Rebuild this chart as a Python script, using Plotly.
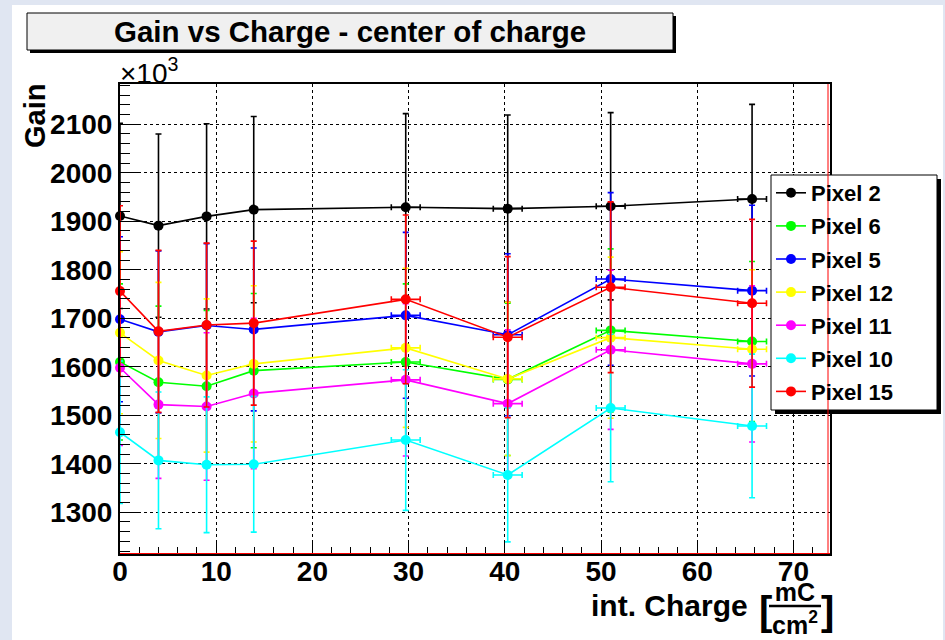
import plotly.graph_objects as go

# integrated charge [mC/cm^2] at each measurement, with its uncertainty
charge = [0.0, 4.0, 9.0, 13.9, 29.7, 40.3, 51.0, 65.7]
charge_err = [0.3, 0.3, 0.3, 0.3, 1.5, 1.5, 1.5, 1.5]

# gain (in units of 10^3) per pixel, with uncertainties
gain_pixel2 = [1911, 1891, 1910, 1924, 1929, 1926, 1931, 1946]
err_pixel2 = [191, 189, 191, 192, 193, 193, 193, 195]
gain_pixel6 = [1610, 1568, 1560, 1592, 1610, 1574, 1675, 1652]
err_pixel6 = [161, 157, 156, 159, 161, 157, 168, 165]
gain_pixel5 = [1698, 1672, 1685, 1677, 1706, 1666, 1781, 1757]
err_pixel5 = [170, 167, 169, 168, 171, 167, 178, 176]
gain_pixel12 = [1670, 1613, 1582, 1606, 1639, 1575, 1660, 1636]
err_pixel12 = [167, 161, 158, 161, 164, 158, 166, 164]
gain_pixel11 = [1598, 1522, 1518, 1545, 1573, 1524, 1635, 1606]
err_pixel11 = [160, 152, 152, 155, 157, 152, 164, 161]
gain_pixel10 = [1465, 1407, 1398, 1399, 1449, 1377, 1515, 1478]
err_pixel10 = [147, 141, 140, 140, 145, 138, 152, 148]
gain_pixel15 = [1756, 1673, 1686, 1690, 1739, 1661, 1764, 1731]
err_pixel15 = [176, 167, 169, 169, 174, 166, 176, 173]

pixel_names = ["Pixel 2", "Pixel 6", "Pixel 5", "Pixel 12", "Pixel 11", "Pixel 10", "Pixel 15"]
pixel_colors = ["#000000", "#00ff00", "#0000ff", "#ffff00", "#ff00ff", "#00ffff", "#ff0000"]
pixel_gains = [gain_pixel2, gain_pixel6, gain_pixel5, gain_pixel12, gain_pixel11, gain_pixel10, gain_pixel15]
pixel_errs = [err_pixel2, err_pixel6, err_pixel5, err_pixel12, err_pixel11, err_pixel10, err_pixel15]

FONT = "Liberation Sans, Arial, Helvetica, sans-serif"

# canvas geometry (pixels) used to place decorations around the frame
W, H = 945, 640
L, R, T, B = 120, 830, 84, 554


def px(x):
    return (x - L) / (R - L)


def py(y):
    return (B - y) / (B - T)


fig = go.Figure()
for name, color, gain, err in zip(pixel_names, pixel_colors, pixel_gains, pixel_errs):
    fig.add_trace(go.Scatter(
        x=charge, y=gain, name=name, legendgroup=name,
        mode="lines+markers",
        line=dict(color=color, width=1.6),
        marker=dict(color=color, size=10, symbol="circle"),
        error_y=dict(type="data", array=err, visible=True, color=color, thickness=1.6, width=3),
        error_x=dict(type="data", array=charge_err, visible=True, color=color, thickness=1.6, width=3),
        cliponaxis=False,
    ))

shapes = []
# light frame strips around the canvas
strip = "#e0e6f2"
shapes.append(dict(type="rect", xref="paper", yref="paper", x0=px(0), x1=px(12), y0=py(H), y1=py(0),
                   fillcolor=strip, line=dict(width=0), layer="below"))
shapes.append(dict(type="rect", xref="paper", yref="paper", x0=px(0), x1=px(W), y0=py(5), y1=py(0),
                   fillcolor=strip, line=dict(width=0), layer="below"))
shapes.append(dict(type="rect", xref="paper", yref="paper", x0=px(943), x1=px(W), y0=py(H), y1=py(0),
                   fillcolor=strip, line=dict(width=0), layer="below"))
# title box with drop shadow
shapes.append(dict(type="rect", xref="paper", yref="paper", x0=px(30), x1=px(676), y0=py(53), y1=py(16),
                   fillcolor="#000000", line=dict(width=0), layer="above"))
shapes.append(dict(type="rect", xref="paper", yref="paper", x0=px(27), x1=px(673), y0=py(50), y1=py(13),
                   fillcolor="#f0f0f0", line=dict(color="#000000", width=1), layer="above"))
# legend box with drop shadow
shapes.append(dict(type="rect", xref="paper", yref="paper", x0=px(775), x1=px(941), y0=py(414), y1=py(179),
                   fillcolor="#000000", line=dict(width=0), layer="above"))
shapes.append(dict(type="rect", xref="paper", yref="paper", x0=px(771), x1=px(937), y0=py(410), y1=py(175),
                   fillcolor="#ffffff", line=dict(color="#000000", width=1), layer="above"))
# thin red frame edges along bottom and right
shapes.append(dict(type="line", xref="paper", yref="paper", x0=px(L), x1=px(R), y0=py(B - 0.5), y1=py(B - 0.5),
                   line=dict(color="#ff0000", width=1), layer="above"))
shapes.append(dict(type="line", xref="paper", yref="paper", x0=px(R - 2), x1=px(R - 2), y0=py(B), y1=py(T),
                   line=dict(color="#ff0000", width=1), layer="above"))
# fraction bar of the x-axis unit
shapes.append(dict(type="line", xref="paper", yref="paper", x0=px(769), x1=px(821), y0=py(606), y1=py(606),
                   line=dict(color="#000000", width=2.5)))

annotations = [
    dict(text="Gain vs Charge - center of charge", x=px(350), y=py(31), xref="paper", yref="paper",
         xanchor="center", yanchor="middle", showarrow=False,
         font=dict(family=FONT, size=29.5, color="#000000", weight="bold")),
    dict(text="×10<sup>3</sup>", x=px(118), y=py(71), xref="paper", yref="paper",
         xanchor="left", yanchor="middle", showarrow=False,
         font=dict(family=FONT, size=28, color="#000000")),
    dict(text="Gain", x=px(35), y=py(116), xref="paper", yref="paper", textangle=-90,
         xanchor="center", yanchor="middle", showarrow=False,
         font=dict(family=FONT, size=29, color="#000000", weight="bold")),
    dict(text="int. Charge", x=px(750), y=py(605), xref="paper", yref="paper",
         xanchor="right", yanchor="middle", showarrow=False,
         font=dict(family=FONT, size=30, color="#000000", weight="bold")),
    dict(text="[", x=px(765), y=py(611), xref="paper", yref="paper",
         xanchor="center", yanchor="middle", showarrow=False, borderpad=0,
         font=dict(family=FONT, size=40, color="#000000", weight="bold")),
    dict(text="mC<br>cm<sup>2</sup>", x=px(795), y=py(608), xref="paper", yref="paper",
         xanchor="center", yanchor="middle", showarrow=False, borderpad=0,
         font=dict(family=FONT, size=25, color="#000000", weight="bold")),
    dict(text="]", x=px(827), y=py(611), xref="paper", yref="paper",
         xanchor="center", yanchor="middle", showarrow=False, borderpad=0,
         font=dict(family=FONT, size=40, color="#000000", weight="bold")),
]

axis_common = dict(
    showgrid=True, gridcolor="#000000", gridwidth=1, griddash="dot",
    showline=True, linecolor="#000000", linewidth=2, mirror=True,
    ticks="inside", tickcolor="#000000", tickwidth=1,
    zeroline=False,
    tickfont=dict(family=FONT, size=28, color="#000000", weight="bold"),
)

fig.update_layout(
    width=W, height=H, autosize=False,
    margin=dict(l=L, r=W - R, t=T, b=H - B, pad=0),
    paper_bgcolor="#ffffff", plot_bgcolor="#ffffff",
    xaxis=dict(range=[0, 73.8], tick0=0, dtick=10, ticklen=14, ticklabelstandoff=-9,
               minor=dict(dtick=2, ticks="inside", ticklen=7, tickcolor="#000000", showgrid=False),
               **axis_common),
    yaxis=dict(range=[1214, 2183], tick0=0, dtick=100, ticklen=18,
               minor=dict(dtick=20, ticks="inside", ticklen=10, tickcolor="#000000", showgrid=False),
               **axis_common),
    showlegend=True,
    legend=dict(x=px(771), y=py(172), xanchor="left", yanchor="top",
                bgcolor="rgba(0,0,0,0)", borderwidth=0, tracegroupgap=1.5,
                font=dict(family=FONT, size=22, color="#000000", weight="bold")),
    shapes=shapes,
    annotations=annotations,
)

fig.write_html("out.html")
